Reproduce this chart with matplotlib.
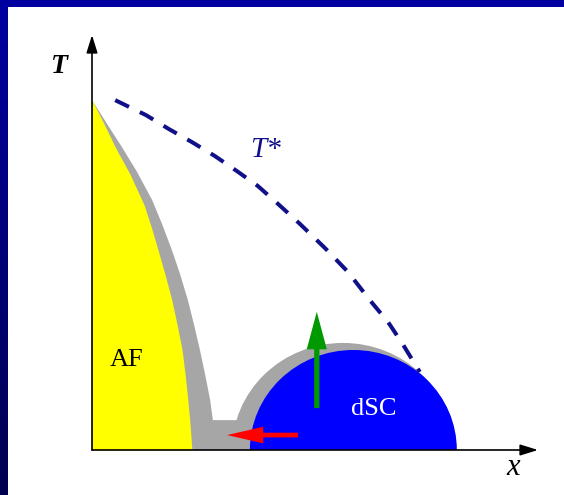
import matplotlib
matplotlib.use("Agg")
import matplotlib.pyplot as plt
import numpy as np
from matplotlib.patches import Ellipse, Polygon, FancyArrowPatch

# ---- data (doping x, temperature T, both in axis units 0..1) ----
af_x = [0.0, 0.026, 0.052, 0.085, 0.117, 0.133, 0.148, 0.164, 0.179,
        0.191, 0.202, 0.209, 0.215, 0.220, 0.224]
af_T = [0.843, 0.788, 0.730, 0.665, 0.590, 0.537, 0.482, 0.422, 0.361,
        0.301, 0.241, 0.180, 0.120, 0.060, 0.0]

# gray fluctuation band around AF, outer edge, plus the low plateau
band_x = [0.0, 0.033, 0.067, 0.101, 0.135, 0.158, 0.179, 0.198, 0.215,
          0.229, 0.242, 0.254, 0.265, 0.271, 0.325, 0.345, 0.345]
band_T = [0.843, 0.787, 0.730, 0.670, 0.602, 0.542, 0.482, 0.422, 0.361,
          0.301, 0.241, 0.180, 0.120, 0.072, 0.072, 0.03, 0.0]

# superconducting dome: centre, half width, height
dsc_center, dsc_halfwidth, dsc_Tmax = 0.586, 0.232, 0.241
fluct_center, fluct_halfwidth, fluct_Tmax = 0.563, 0.249, 0.258

# pseudogap crossover T*
tstar_x = [0.052, 0.121, 0.173, 0.224, 0.276, 0.325, 0.372, 0.415, 0.466,
           0.522, 0.574, 0.623, 0.664, 0.695, 0.735]
tstar_T = [0.843, 0.807, 0.773, 0.742, 0.708, 0.672, 0.636, 0.595, 0.545,
           0.487, 0.429, 0.361, 0.308, 0.258, 0.188]

red_arrow = ((0.462, 0.036), (0.303, 0.036))
green_arrow = ((0.504, 0.101), (0.504, 0.333))

W, H = 564, 495
fig = plt.figure(figsize=(W / 100, H / 100), dpi=100, facecolor="white")

# blue slide frame (top bar + left gradient bar)
top = fig.add_axes([0, 1 - 7 / H, 1, 7 / H])
top.set_facecolor("#0000a0")
top.set_xticks([]); top.set_yticks([])
for s in top.spines.values():
    s.set_visible(False)
left = fig.add_axes([0, 0, 8 / W, 1 - 7 / H])
grad = np.linspace(0, 1, 200)[:, None]
c_top = np.array([0x00, 0x00, 0xa0]) / 255
c_bot = np.array([0x00, 0x00, 0x50]) / 255
img = c_top[None, None, :] * (1 - grad[..., None]) + c_bot[None, None, :] * grad[..., None]
left.imshow(img, aspect="auto")
left.axis("off")

x0, y0 = 92, 450
ax = fig.add_axes([x0 / W, (H - y0) / H, 446 / W, 415 / H])
ax.set_xlim(0, 1)
ax.set_ylim(0, 1)
ax.axis("off")

serif = "Liberation Serif"

# gray band + yellow AF
ax.add_patch(Polygon(list(zip(band_x, band_T)) + [(0, 0)], closed=True,
                     facecolor="#a6a6a6", edgecolor="none", zorder=1))
ax.add_patch(Ellipse((fluct_center, 0), 2 * fluct_halfwidth, 2 * fluct_Tmax,
                     facecolor="#a6a6a6", edgecolor="none", zorder=1))
ax.fill_betweenx(af_T, 0, af_x, color="#ffff00", lw=0, zorder=2)
ax.add_patch(Ellipse((dsc_center, 0), 2 * dsc_halfwidth, 2 * dsc_Tmax,
                     facecolor="#0000ff", edgecolor="none", zorder=2))

# T* dashed line
ax.plot(tstar_x, tstar_T, color="#10108a", lw=2.9, ls=(0, (3.8, 3.0)),
        solid_capstyle="butt", dash_capstyle="butt", zorder=3)

# arrows
ax.add_patch(FancyArrowPatch(red_arrow[0], red_arrow[1],
                             arrowstyle="simple,head_length=26,head_width=12,tail_width=3.4",
                             mutation_scale=1, color="#ff0000", lw=0,
                             shrinkA=0, shrinkB=0, zorder=4))
ax.add_patch(FancyArrowPatch(green_arrow[0], green_arrow[1],
                             arrowstyle="simple,head_length=27,head_width=14.5,tail_width=3.8",
                             mutation_scale=1, color="#009a00", lw=0,
                             shrinkA=0, shrinkB=0, zorder=4))

# axes with arrow heads
for tip in [(0, 1.0), (1.0, 0)]:
    ax.annotate("", xy=tip, xytext=(0, 0), xycoords="data",
                arrowprops=dict(arrowstyle="-|>,head_length=0.9,head_width=0.28",
                                lw=1.2, color="black", mutation_scale=12,
                                shrinkA=0, shrinkB=0),
                annotation_clip=False, zorder=5)

# labels
ax.text(-0.072, 0.925, "T", family=serif, style="italic", weight="bold",
        fontsize=20, ha="center", va="center", clip_on=False)
ax.text(0.944, -0.043, "x", family=serif, style="italic",
        fontsize=22, ha="center", va="center", clip_on=False)
ax.text(0.388, 0.723, "T*", family=serif, style="italic", color="#10108a",
        fontsize=21, ha="center", va="center")
ax.text(0.078, 0.217, "AF", family=serif, fontsize=19,
        ha="center", va="center", zorder=6)
ax.text(0.632, 0.099, "dSC", family=serif, fontsize=19, color="white",
        ha="center", va="center", zorder=6)

fig.savefig("out.png", dpi=100, facecolor="white")
